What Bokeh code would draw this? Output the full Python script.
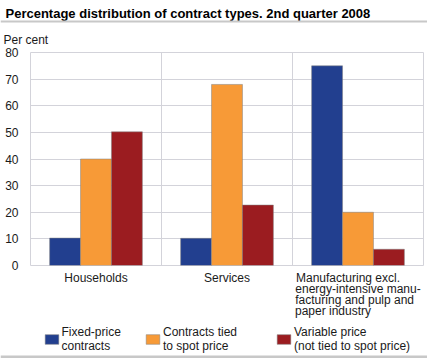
from bokeh.plotting import figure
from bokeh.layouts import column
from bokeh.models import (FactorRange, Range1d, Span, Legend, LegendItem, FixedTicker,
                          ColumnDataSource)
from bokeh.core.properties import value
from bokeh.transform import dodge
from bokeh.embed import file_html
from bokeh.resources import INLINE

# ---- data ----
NB = "\u00a0"
categories = ["Households", "Services",
              "Manufacturing excl." + NB * 6 + "\nenergy-intensive manu-\nfacturing and pulp and" + NB * 2
              + "\npaper industry" + NB * 15]
series_names = ["Fixed-price\ncontracts", "Contracts tied\nto spot price",
                "Variable price\n(not tied to spot price)"]
fixed_price = [10.3, 10.2, 75.0]
spot_price = [40.0, 68.0, 20.0]
variable_price = [50.2, 22.7, 6.1]
y_ticks = [0, 10, 20, 30, 40, 50, 60, 70, 80]
title_text = "Percentage distribution of contract types. 2nd quarter 2008"
unit_text = "Per cent"

colors = ["#223f8f", "#f79a37", "#9b1c20"]
FONT = "Liberation Sans"
GRID = "#d3d3da"
RULE = "#c8c8c8"
TXT = "#1a1a1a"
W = 427
NAN = float("nan")


def blank(h):
    f = figure(width=W, height=h, x_range=Range1d(0, W), y_range=Range1d(h, 0),
               output_backend="svg", toolbar_location=None, x_axis_type=None, y_axis_type=None,
               min_border=0)
    f.frame_align = False
    f.outline_line_color = None
    f.grid.visible = False
    return f


# ---- header: title, rule, unit ----
head = blank(46)
head.text(x=[5], y=[12.7], text=[title_text], text_font=value(FONT), text_font_size="13px",
          text_font_style="bold", text_color="#000000", text_baseline="alphabetic")
head.hbar(y=[21], left=[0], right=[W], height=2, fill_color=RULE, line_color=None)
head.text(x=[3], y=[39.3], text=[unit_text], text_font=value(FONT), text_font_size="12px",
          text_color=TXT, text_baseline="alphabetic")

# ---- main chart ----
src = ColumnDataSource(dict(cat=categories, fixed=fixed_price, spot=spot_price, var=variable_price))
p = figure(frame_width=393, frame_height=213,
           x_range=FactorRange(factors=categories, range_padding=0),
           y_range=Range1d(0, 80), output_backend="svg", toolbar_location=None,
           min_border_left=30, min_border_right=4, min_border_top=6, min_border_bottom=57)
p.frame_align = False
p.outline_line_color = GRID
p.xgrid.visible = False
p.ygrid.grid_line_color = GRID
p.yaxis.ticker = FixedTicker(ticks=y_ticks)
p.yaxis.axis_line_color = None
p.yaxis.major_tick_line_color = None
p.yaxis.minor_tick_line_color = None
p.yaxis.major_label_standoff = 6
p.yaxis.major_label_text_font = FONT
p.yaxis.major_label_text_font_size = "12px"
p.yaxis.major_label_text_color = TXT
p.xaxis.axis_line_color = None
p.xaxis.major_tick_line_color = None
p.xaxis.major_label_standoff = -1
p.xaxis.major_label_text_font = FONT
p.xaxis.major_label_text_font_size = "12px"
p.xaxis.major_label_text_line_height = 0.8
p.xaxis.major_label_text_color = TXT

bw = 0.236
for col, off, c in zip(["fixed", "spot", "var"], [-bw, 0, bw], colors):
    p.vbar(x=dodge("cat", off, range=p.x_range), top=col, width=bw, source=src,
           fill_color=c, line_color="#808080", line_alpha=0.5)
for xs in (1, 2):
    p.add_layout(Span(location=xs, dimension="height", line_color=GRID, line_width=1))

# ---- footer: legend and bottom rule ----
foot = blank(36)
foot.hbar(y=[34.5], left=[0], right=[W], height=3, fill_color=RULE, line_color=None)
for name, c, xoff in zip(series_names, colors, [42.5, 144, 275]):
    r = foot.vbar(x=[NAN], top=[NAN], width=1, fill_color=c, line_color="#808080", line_alpha=0.5)
    lg = Legend(items=[LegendItem(label=name, renderers=[r])], location=(xoff, 5),
                padding=0, margin=0, border_line_color=None, background_fill_alpha=0,
                glyph_width=17, glyph_height=12, label_standoff=2,
                label_text_font=FONT, label_text_font_size="12px", label_text_color=TXT,
                label_text_line_height=0.95)
    foot.add_layout(lg, "center")

layout = column(head, p, foot, spacing=0)
open("out.html", "w").write(file_html(layout, INLINE))
